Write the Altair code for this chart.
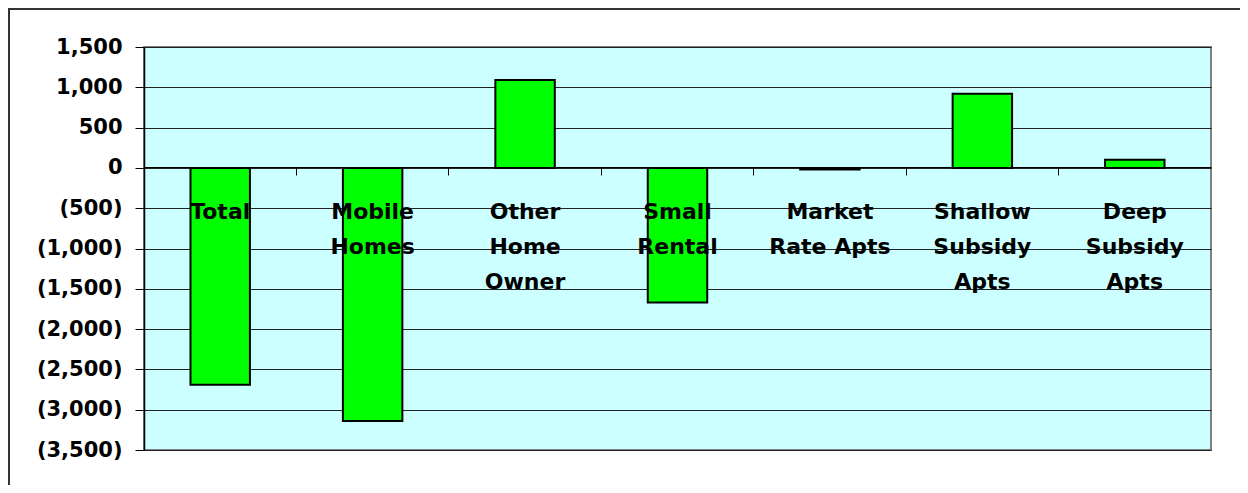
import altair as alt
import pandas as pd

categories = ["Total", "Mobile Homes", "Other Home Owner", "Small Rental",
              "Market Rate Apts", "Shallow Subsidy Apts", "Deep Subsidy Apts"]
labels = ["Total", "Mobile\nHomes", "Other\nHome\nOwner", "Small\nRental",
          "Market\nRate Apts", "Shallow\nSubsidy\nApts", "Deep\nSubsidy\nApts"]
values = [-2690, -3140, 1090, -1670, -20, 920, 100]
y_ticks = [-3500, -3000, -2500, -2000, -1500, -1000, -500, 0, 500, 1000, 1500]

df = pd.DataFrame({"cat": categories, "label": labels, "value": values})

W, H = 1067, 403
FONT = "DejaVu Sans"

x_enc = alt.X(
    "cat:N", sort=categories, title=None,
    scale=alt.Scale(paddingInner=0, paddingOuter=0),
    axis=alt.Axis(labels=False, title=None, offset=-283, bandPosition=0,
                  tickSize=8, tickColor="black", domainColor="black",
                  domainWidth=1, tickWidth=1, grid=False),
)
y_enc = alt.Y(
    "value:Q", title=None,
    scale=alt.Scale(domain=[-3500, 1500], nice=False, zero=False),
    axis=alt.Axis(
        values=y_ticks,
        labelExpr="datum.value < 0 ? '(' + format(-datum.value, ',') + ')' : format(datum.value, ',') + '\u2002'",
        labelFont=FONT, labelFontWeight="bold", labelFontSize=21,
        labelColor="black", labelPadding=13, labelFlush=False, labelOverlap=False,
        tickSize=9, tickColor="black", domainColor="black", domainWidth=1.5,
        gridColor="#222222", gridWidth=1, title=None,
    ),
)

bars = alt.Chart(df).mark_bar(
    width={"band": 0.39}, color="#00FF00", stroke="black", strokeWidth=2
).encode(x=x_enc, y=y_enc)

text = alt.Chart(df).mark_text(
    font=FONT, fontWeight="bold", fontSize=22, lineBreak="\n", lineHeight=35,
    baseline="alphabetic", align="center", dy=51, color="black"
).encode(
    x=alt.X("cat:N", sort=categories),
    y=alt.datum(0),
    text="label:N",
)

border = alt.Chart(pd.DataFrame({"a": [0]})).mark_rect(
    filled=False, stroke="#333333", strokeWidth=2
).encode(
    x=alt.value(-135), x2=alt.value(1400),
    y=alt.value(-38), y2=alt.value(700),
)

chart = alt.layer(bars, text, border).properties(
    width=W, height=H,
    autosize=alt.AutoSizeParams(type="none"),
    padding={"left": 136, "top": 39, "right": 29, "bottom": 35},
    background="white",
).configure_view(
    fill="#CCFFFF", stroke="#808080", strokeWidth=2
)

chart.save("out.html", embed_options={"renderer": "svg", "actions": False})
